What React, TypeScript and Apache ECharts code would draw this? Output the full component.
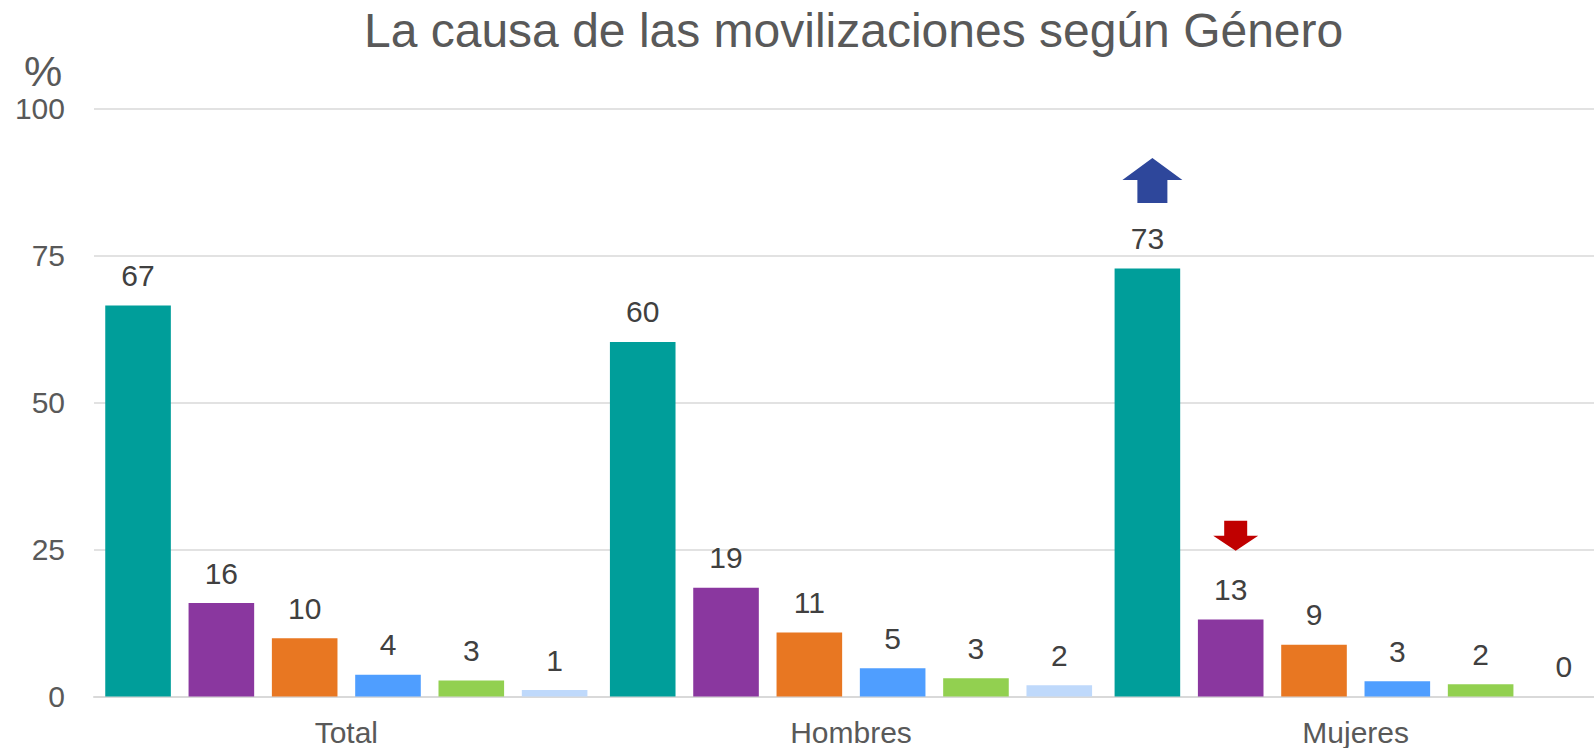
import React, { useEffect, useRef } from "react";
import * as echarts from "echarts";

const categories = ["Total", "Hombres", "Mujeres"];
const seriesNames = ["Causa 1", "Causa 2", "Causa 3", "Causa 4", "Causa 5", "Causa 6"];
const tealValues = [66.5, 60.3, 72.8];
const purpleValues = [15.9, 18.5, 13.1];
const orangeValues = [9.9, 10.9, 8.8];
const blueValues = [3.7, 4.8, 2.6];
const greenValues = [2.7, 3.1, 2.1];
const lightBlueValues = [1.1, 1.9, 0];
const seriesColors = ["#009E9A", "#8A379F", "#E87722", "#4F9EFF", "#92D050", "#BFD9FB"];
const yTicks = [0, 25, 50, 75, 100];
const upArrow = { category: "Mujeres", value: 87.75 };
const downArrow = { category: "Mujeres", value: 27.35 };

const FONT = "'Liberation Sans', Arial, sans-serif";

export default function App() {
  const ref = useRef<HTMLDivElement>(null);
  useEffect(() => {
    if (!ref.current) return;
    const chart = echarts.init(ref.current, null, { renderer: "svg" });
    const allValues = [tealValues, purpleValues, orangeValues, blueValues, greenValues, lightBlueValues];
    const series: any[] = allValues.map((vals, i) => ({
      name: seriesNames[i],
      type: "bar",
      data: vals,
      barWidth: 65.6,
      barGap: "27%",
      itemStyle: { color: seriesColors[i] },
      label: {
        show: true,
        position: "top",
        distance: 15,
        fontSize: 30,
        fontFamily: FONT,
        color: "#404040",
        formatter: (p: any) => String(Math.round(p.value)),
      },
    }));
    series[0].markPoint = {
      silent: true,
      symbol: "path://M30,0 L60,22 L45,22 L45,45 L15,45 L15,22 L0,22 Z",
      symbolSize: [60, 45],
      symbolOffset: [5, 0],
      label: { show: false },
      itemStyle: { color: "#2E479B" },
      data: [{ coord: [upArrow.category, upArrow.value] }],
    };
    series[1].markPoint = {
      silent: true,
      symbol: "path://M11,0 L34,0 L34,15 L45,15 L22.5,30 L0,15 L11,15 Z",
      symbolSize: [45, 30],
      symbolOffset: [5, 0],
      label: { show: false },
      itemStyle: { color: "#C00000" },
      data: [{ coord: [downArrow.category, downArrow.value] }],
    };
    chart.setOption({
      animation: false,
      title: [
        {
          text: "La causa de las movilizaciones según Género",
          left: 364,
          top: 6,
          padding: 0,
          textStyle: { fontSize: 48, fontWeight: "normal", color: "#595959", fontFamily: FONT },
        },
        {
          text: "%",
          left: 24,
          top: 53,
          padding: 0,
          textStyle: { fontSize: 43, lineHeight: 36, fontWeight: "normal", color: "#595959", fontFamily: FONT },
        },
      ],
      grid: { left: 94, top: 108.5, width: 1514, height: 588, containLabel: false },
      xAxis: {
        type: "category",
        data: categories,
        axisTick: { show: false },
        axisLine: { lineStyle: { color: "#D9D9D9", width: 2 } },
        axisLabel: { fontSize: 30, color: "#595959", fontFamily: FONT, margin: 21 },
      },
      yAxis: {
        type: "value",
        min: yTicks[0],
        max: yTicks[yTicks.length - 1],
        interval: 25,
        axisLine: { show: false },
        axisTick: { show: false },
        splitLine: { lineStyle: { color: "#D9D9D9", width: 1.5 } },
        axisLabel: { fontSize: 30, color: "#595959", fontFamily: FONT, margin: 29 },
      },
      series,
    });
    return () => chart.dispose();
  }, []);
  return (
    <div
      style={{
        position: "fixed",
        left: 0,
        top: 0,
        width: 1594,
        height: 748,
        overflow: "hidden",
        background: "#fff",
      }}
    >
      <div ref={ref} style={{ width: 1612, height: 748 }} />
    </div>
  );
}
